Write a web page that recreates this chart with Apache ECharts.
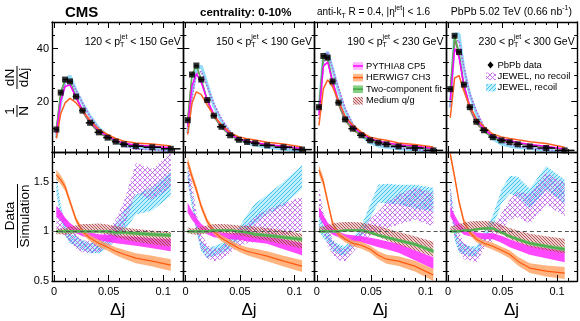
<!DOCTYPE html>
<html><head><meta charset="utf-8">
<script src="https://cdn.jsdelivr.net/npm/echarts@6/dist/echarts.min.js"></script>
<style>html,body{margin:0;padding:0;background:#fff}#c{width:580px;height:321px}</style>
</head><body><div id="c"></div>
<script>
// ---------------- data ----------------
const deltaJ  = [0.002, 0.006, 0.010, 0.0145, 0.020, 0.026, 0.033, 0.041, 0.049, 0.0565, 0.064, 0.075, 0.090, 0.107];
const binLow  = [0, 0.004, 0.008, 0.012, 0.017, 0.023, 0.029, 0.037, 0.045, 0.053, 0.060, 0.068, 0.082, 0.098];
const binHigh = [0.004, 0.008, 0.012, 0.017, 0.023, 0.029, 0.037, 0.045, 0.053, 0.060, 0.068, 0.082, 0.098, 0.116];
const ptBins  = [["120", "150"], ["150", "190"], ["190", "230"], ["230", "300"]];

// PbPb data, 1/N dN/dΔj
const data1 = [9.5, 23.4, 28.3, 27.6, 21.9, 16.6, 12.0, 8.4, 6.4, 4.9, 3.9, 3.2, 2.8, 2.2];
const data2 = [13.0, 30.2, 33.6, 28.3, 20.6, 14.7, 10.5, 7.3, 5.6, 4.8, 4.3, 3.5, 2.8, 1.9];
const data3 = [17.9, 37.2, 36.6, 27.6, 19.6, 13.3, 9.8, 7.3, 5.4, 4.5, 3.9, 3.1, 2.5, 1.6];
const data4 = [24.7, 44.8, 38.7, 26.4, 17.9, 12.4, 9.2, 6.6, 5.4, 4.7, 3.9, 3.1, 2.5, 1.6];

// simulations, 1/N dN/dΔj
const pythiaTop1  = [7.9, 20.2, 25.7, 26.3, 21.7, 16.9, 12.5, 8.9, 6.9, 5.3, 4.3, 3.6, 3.2, 2.6];
const herwigTop1  = [6.1, 15.4, 19.5, 21.2, 19.6, 16.6, 12.9, 9.5, 7.6, 6.1, 5.1, 4.4, 4.0, 3.3];
const twoCompTop1 = [9.5, 23.4, 28.3, 27.6, 21.9, 16.6, 12.0, 8.4, 6.4, 4.95, 3.95, 3.3, 2.9, 2.3];
const mediumTop1  = [9.5, 23.4, 28.3, 27.3, 21.5, 16.1, 11.7, 8.2, 6.3, 4.9, 4.0, 3.3, 3.0, 2.4];
const jewelNRTop1 = [8.3, 21.3, 27.0, 28.5, 24.3, 19.5, 14.3, 9.8, 7.0, 4.8, 3.3, 2.1, 1.9, 1.4];
const jewelRTop1  = [6.5, 19.5, 27.7, 29.7, 24.3, 19.3, 14.5, 10.0, 7.1, 4.9, 3.5, 2.5, 2.1, 1.5];

const pythiaTop2  = [10.5, 26.0, 30.5, 27.2, 20.6, 15.2, 10.9, 7.7, 5.9, 5.1, 4.6, 3.8, 3.2, 2.3];
const herwigTop2  = [7.6, 19.5, 23.7, 22.6, 18.7, 14.7, 11.3, 8.3, 6.7, 6.0, 5.5, 4.7, 4.0, 2.9];
const twoCompTop2 = [13.0, 30.2, 33.6, 28.3, 20.6, 14.6, 10.4, 7.2, 5.6, 4.85, 4.4, 3.65, 3.0, 2.05];
const mediumTop2  = [12.9, 30.2, 33.6, 28.0, 20.2, 14.3, 10.2, 7.2, 5.5, 4.8, 4.3, 3.6, 3.0, 2.1];
const jewelNRTop2 = [8.1, 21.6, 30.5, 31.4, 25.7, 19.3, 13.5, 8.6, 6.0, 4.9, 4.2, 3.3, 2.5, 1.6];
const jewelRTop2  = [8.1, 23.2, 32.0, 33.4, 26.4, 18.4, 12.7, 8.3, 5.8, 4.4, 3.6, 2.8, 2.0, 1.2];

const pythiaTop3  = [14.9, 33.2, 34.9, 27.6, 20.2, 14.1, 10.5, 7.9, 6.0, 5.1, 4.5, 3.7, 3.3, 2.35];
const herwigTop3  = [11.0, 24.8, 28.2, 25.6, 20.2, 14.5, 11.1, 8.5, 6.6, 5.9, 5.4, 4.4, 3.85, 2.9];
const twoCompTop3 = [17.9, 37.2, 36.6, 27.6, 19.6, 13.2, 9.7, 7.2, 5.45, 4.7, 4.15, 3.4, 2.9, 2.0];
const mediumTop3  = [17.5, 36.5, 35.5, 26.5, 18.7, 12.7, 9.3, 7.0, 5.3, 4.5, 4.0, 3.3, 2.85, 1.95];
const jewelNRTop3 = [13.5, 33.8, 38.5, 32.5, 25.1, 17.5, 11.5, 7.7, 5.2, 4.1, 3.35, 2.55, 1.95, 1.3];
const jewelRTop3  = [16.3, 37.0, 38.7, 32.3, 23.9, 16.6, 11.1, 7.3, 4.5, 3.3, 2.8, 2.25, 1.85, 1.2];

const pythiaTop4  = [20.6, 40.0, 36.9, 26.4, 18.3, 12.9, 9.7, 6.9, 5.9, 5.3, 4.6, 3.8, 3.2, 2.1];
const herwigTop4  = [13.9, 28.9, 29.8, 24.0, 18.1, 13.5, 10.5, 7.8, 6.7, 6.1, 5.6, 4.9, 4.2, 2.8];
const twoCompTop4 = [24.7, 44.8, 38.7, 26.1, 17.7, 12.2, 8.9, 6.4, 5.45, 4.95, 4.25, 3.5, 2.95, 1.95];
const mediumTop4  = [24.2, 43.5, 37.2, 25.1, 16.9, 11.7, 8.7, 6.3, 5.3, 4.8, 4.1, 3.4, 2.85, 1.9];
const jewelNRTop4 = [18.3, 42.7, 43.0, 33.0, 22.9, 16.5, 10.5, 6.8, 4.9, 3.85, 3.1, 2.5, 1.75, 1.2];
const jewelRTop4  = [17.6, 45.5, 45.5, 32.2, 22.4, 15.5, 9.7, 6.0, 4.0, 3.2, 2.7, 2.35, 1.6, 1.15];

// Data / Simulation ratios (central values)
const pythiaRatio1  = [1.20, 1.16, 1.10, 1.05, 1.01, 0.98, 0.96, 0.94, 0.93, 0.92, 0.91, 0.90, 0.88, 0.86];
const herwigRatio1  = [1.57, 1.52, 1.45, 1.30, 1.12, 1.00, 0.93, 0.88, 0.84, 0.80, 0.77, 0.73, 0.70, 0.66];
const twoCompRatio1 = [1.00, 1.00, 1.00, 1.00, 1.00, 1.00, 1.00, 1.00, 1.00, 0.99, 0.99, 0.98, 0.97, 0.96];
const mediumRatio1  = [1.00, 1.00, 1.00, 1.01, 1.02, 1.03, 1.03, 1.03, 1.02, 1.00, 0.98, 0.96, 0.94, 0.92];
const jewelNRRatio1 = [1.15, 1.10, 1.05, 0.97, 0.90, 0.85, 0.84, 0.86, 0.92, 1.02, 1.17, 1.54, 1.47, 1.62];
const jewelRRatio1  = [1.47, 1.20, 1.02, 0.93, 0.90, 0.86, 0.83, 0.84, 0.90, 1.00, 1.10, 1.27, 1.33, 1.48];

const pythiaRatio2  = [1.24, 1.16, 1.10, 1.04, 1.00, 0.97, 0.96, 0.95, 0.95, 0.94, 0.93, 0.92, 0.87, 0.82];
const herwigRatio2  = [1.70, 1.55, 1.42, 1.25, 1.10, 1.00, 0.93, 0.88, 0.83, 0.80, 0.78, 0.75, 0.70, 0.65];
const twoCompRatio2 = [1.00, 1.00, 1.00, 1.00, 1.00, 1.01, 1.01, 1.01, 1.00, 0.99, 0.97, 0.96, 0.94, 0.92];
const mediumRatio2  = [1.01, 1.00, 1.00, 1.01, 1.02, 1.03, 1.03, 1.02, 1.01, 1.00, 0.99, 0.97, 0.94, 0.90];
const jewelNRRatio2 = [1.60, 1.40, 1.10, 0.90, 0.80, 0.76, 0.78, 0.85, 0.93, 0.98, 1.02, 1.07, 1.12, 1.18];
const jewelRRatio2  = [1.60, 1.30, 1.05, 0.85, 0.78, 0.80, 0.83, 0.88, 0.97, 1.08, 1.18, 1.27, 1.38, 1.55];

const pythiaRatio3  = [1.20, 1.12, 1.05, 1.00, 0.97, 0.94, 0.93, 0.92, 0.90, 0.88, 0.86, 0.83, 0.76, 0.68];
const herwigRatio3  = [1.62, 1.50, 1.30, 1.08, 0.97, 0.92, 0.88, 0.86, 0.82, 0.76, 0.72, 0.70, 0.65, 0.56];
const twoCompRatio3 = [1.00, 1.00, 1.00, 1.00, 1.00, 1.01, 1.01, 1.01, 0.99, 0.96, 0.94, 0.91, 0.87, 0.80];
const mediumRatio3  = [1.02, 1.02, 1.03, 1.04, 1.05, 1.05, 1.05, 1.04, 1.02, 1.00, 0.97, 0.93, 0.88, 0.82];
const jewelNRRatio3 = [1.33, 1.10, 0.95, 0.85, 0.78, 0.76, 0.85, 0.95, 1.04, 1.10, 1.16, 1.22, 1.28, 1.22];
const jewelRRatio3  = [1.10, 1.00, 0.95, 0.85, 0.82, 0.80, 0.88, 1.00, 1.20, 1.38, 1.38, 1.37, 1.35, 1.32];

const pythiaRatio4  = [1.20, 1.12, 1.05, 1.00, 0.98, 0.96, 0.95, 0.95, 0.92, 0.88, 0.85, 0.81, 0.78, 0.75];
const herwigRatio4  = [1.78, 1.55, 1.30, 1.10, 0.99, 0.92, 0.88, 0.85, 0.81, 0.77, 0.70, 0.63, 0.60, 0.58];
const twoCompRatio4 = [1.00, 1.00, 1.00, 1.01, 1.01, 1.02, 1.03, 1.03, 0.99, 0.95, 0.92, 0.88, 0.85, 0.82];
const mediumRatio4  = [1.02, 1.03, 1.04, 1.05, 1.06, 1.06, 1.06, 1.05, 1.02, 0.98, 0.95, 0.91, 0.88, 0.85];
const jewelNRRatio4 = [1.35, 1.05, 0.90, 0.80, 0.78, 0.75, 0.88, 0.97, 1.10, 1.22, 1.27, 1.23, 1.43, 1.32];
const jewelRRatio4  = [1.40, 0.98, 0.85, 0.82, 0.80, 0.80, 0.95, 1.10, 1.35, 1.47, 1.45, 1.33, 1.54, 1.40];

// ratio uncertainties (half widths)
const pythiaErr  = [0.05, 0.045, 0.04, 0.035, 0.03, 0.03, 0.03, 0.03, 0.035, 0.04, 0.04, 0.045, 0.05, 0.06];
const herwigErr  = [0.05, 0.045, 0.04, 0.035, 0.03, 0.03, 0.03, 0.035, 0.035, 0.04, 0.045, 0.05, 0.055, 0.06];
const twoCompErr = [0.012, 0.012, 0.012, 0.012, 0.012, 0.012, 0.012, 0.012, 0.014, 0.015, 0.016, 0.017, 0.018, 0.02];
const mediumErr  = [0.03, 0.03, 0.035, 0.04, 0.04, 0.045, 0.045, 0.05, 0.05, 0.055, 0.06, 0.065, 0.07, 0.075];
const jewelNRErr = [0.12, 0.10, 0.09, 0.08, 0.07, 0.06, 0.06, 0.07, 0.08, 0.10, 0.13, 0.15, 0.16, 0.17];
const jewelRErr  = [0.09, 0.07, 0.06, 0.05, 0.05, 0.05, 0.05, 0.06, 0.07, 0.09, 0.10, 0.10, 0.12, 0.12];

// axis ticks
const xMajorTicks = [0, 0.05, 0.1];
const xMinorTicks = [0.01, 0.02, 0.03, 0.04, 0.06, 0.07, 0.08, 0.09, 0.11];
const topMajorTicks = [20, 40];
const topMinorTicks = [5, 10, 15, 25, 30, 35, 45];
const ratioMajorTicks = [0.5, 1, 1.5];
const ratioMinorTicks = [0.6, 0.7, 0.8, 0.9, 1.1, 1.2, 1.3, 1.4, 1.6, 1.7];

// ---------------- build ----------------
const FONT = '"Liberation Sans", Arial, Helvetica, sans-serif';
const XMIN = -0.002, XMAX = 0.1185;
const colLeft = [52, 183.3, 314.6, 445.9], colW = 131.3;
const rowTop = [22, 152], rowH = [130, 129];
const yRanges = [[1, 50], [0.5, 1.8]];

const panels = [
  {data: data1, top: [pythiaTop1, herwigTop1, twoCompTop1, mediumTop1, jewelNRTop1, jewelRTop1],
   ratio: [pythiaRatio1, herwigRatio1, twoCompRatio1, mediumRatio1, jewelNRRatio1, jewelRRatio1]},
  {data: data2, top: [pythiaTop2, herwigTop2, twoCompTop2, mediumTop2, jewelNRTop2, jewelRTop2],
   ratio: [pythiaRatio2, herwigRatio2, twoCompRatio2, mediumRatio2, jewelNRRatio2, jewelRRatio2]},
  {data: data3, top: [pythiaTop3, herwigTop3, twoCompTop3, mediumTop3, jewelNRTop3, jewelRTop3],
   ratio: [pythiaRatio3, herwigRatio3, twoCompRatio3, mediumRatio3, jewelNRRatio3, jewelRRatio3]},
  {data: data4, top: [pythiaTop4, herwigTop4, twoCompTop4, mediumTop4, jewelNRTop4, jewelRTop4],
   ratio: [pythiaRatio4, herwigRatio4, twoCompRatio4, mediumRatio4, jewelNRRatio4, jewelRRatio4]}
];
const errs = [pythiaErr, herwigErr, twoCompErr, mediumErr, jewelNRErr, jewelRErr];

function mkPat(size, bg, strokes) {
  const c = document.createElement('canvas'); c.width = c.height = size;
  const g = c.getContext('2d');
  if (bg) { g.fillStyle = bg; g.fillRect(0, 0, size, size); }
  strokes.forEach(s => {
    g.strokeStyle = s.color; g.lineWidth = s.lw; g.beginPath();
    for (let k = -1; k <= 1; k++) {
      if (s.dir > 0) { g.moveTo(k * size, size); g.lineTo(k * size + size, 0); }
      else { g.moveTo(k * size, 0); g.lineTo(k * size + size, size); }
    }
    g.stroke();
  });
  return {image: c, repeat: 'repeat'};
}
const cyanPat = mkPat(4, 'rgba(140,225,250,0.55)', [{color: 'rgba(60,190,240,0.95)', lw: 1, dir: 1}]);
const violetPat = mkPat(5, null, [{color: 'rgba(185,85,230,0.8)', lw: 1, dir: 1}, {color: 'rgba(185,85,230,0.8)', lw: 1, dir: -1}]);
const brownPat = mkPat(3, 'rgba(210,130,130,0.4)', [{color: 'rgba(165,60,60,0.9)', lw: 0.9, dir: -1}]);

const bandFill = ['rgba(255,40,255,0.85)', 'rgba(255,160,95,0.8)', 'rgba(110,200,110,0.9)', brownPat, violetPat, cyanPat];

const grids = [], xAxes = [], yAxes = [], series = [];
for (let r = 0; r < 2; r++) for (let c = 0; c < 4; c++) {
  const G = r * 4 + c;
  grids.push({left: colLeft[c], top: rowTop[r], width: colW, height: rowH[r], containLabel: false, outerBoundsMode: 'none'});
  const mkX = (pos, ticks, len, line, labels) => ({
    type: 'value', gridIndex: G, position: pos, min: XMIN, max: XMAX, z: 10,
    axisLine: {show: line, onZero: false, lineStyle: {color: '#000', width: 1.4}},
    axisTick: {show: true, inside: true, length: len, customValues: ticks, lineStyle: {color: '#000', width: 1}},
    axisLabel: labels ? {show: true, customValues: xMajorTicks, margin: 5, fontSize: 11, fontFamily: FONT, color: '#000',
      formatter: v => String(+(+v).toFixed(3))} : {show: false},
    splitLine: {show: false}
  });
  xAxes.push(mkX('bottom', xMajorTicks, 6, true, r === 1), mkX('bottom', xMinorTicks, 3, false, false),
             mkX('top', xMajorTicks, 6, true, false), mkX('top', xMinorTicks, 3, false, false));
  const maj = r === 0 ? topMajorTicks : ratioMajorTicks, mnr = r === 0 ? topMinorTicks : ratioMinorTicks;
  const mkY = (pos, ticks, len, line, labels) => ({
    type: 'value', gridIndex: G, position: pos, min: yRanges[r][0], max: yRanges[r][1], z: 10,
    axisLine: {show: line, onZero: false, lineStyle: {color: '#000', width: 1.4}},
    axisTick: {show: true, inside: true, length: len, customValues: ticks, lineStyle: {color: '#000', width: 1}},
    axisLabel: labels ? {show: true, customValues: maj, margin: 3, fontSize: 11, fontFamily: FONT, color: '#000',
      formatter: v => String(+(+v).toFixed(2))} : {show: false},
    splitLine: {show: false}
  });
  yAxes.push(mkY('left', maj, 6, true, c === 0), mkY('left', mnr, 3, false, false),
             mkY('right', maj, 6, true, false), mkY('right', mnr, 3, false, false));
}

const ax = G => ({xAxisIndex: G * 4, yAxisIndex: G * 4});
const pts = arr => deltaJ.map((x, i) => [x, arr[i]]);
function line(G, arr, color, width, z, type) {
  return {type: 'line', ...ax(G), data: pts(arr), symbol: 'none', silent: true, z,
    lineStyle: {color, width, type: type || 'solid'}};
}
// clip polygon between two horizontal lines (Sutherland-Hodgman)
function clipY(poly, yMin, yMax) {
  const clipEdge = (P, inside, inter) => {
    const out = [];
    for (let i = 0; i < P.length; i++) {
      const a = P[i], b = P[(i + 1) % P.length];
      const ia = inside(a), ib = inside(b);
      if (ia) out.push(a);
      if (ia !== ib) out.push(inter(a, b));
    }
    return out;
  };
  const at = (a, b, y) => [a[0] + (b[0] - a[0]) * (y - a[1]) / (b[1] - a[1]), y];
  let P = clipEdge(poly, p => p[1] >= yMin, (a, b) => at(a, b, yMin));
  P = clipEdge(P, p => p[1] <= yMax, (a, b) => at(a, b, yMax));
  return P;
}
function band(G, center, err, fill, z) {
  return {type: 'custom', ...ax(G), z, silent: true,
    data: deltaJ.map((x, i) => [x, center[i] - err[i], center[i] + err[i]]),
    encode: {x: 0, y: [1, 2]},
    renderItem: (prm, api) => {
      if (prm.dataIndex !== 0) return null;
      const up = deltaJ.map((x, i) => api.coord([x, center[i] + err[i]]));
      const dn = deltaJ.map((x, i) => api.coord([x, center[i] - err[i]])).reverse();
      const cs = prm.coordSys;
      const poly = clipY(up.concat(dn), cs.y, cs.y + cs.height);
      return {type: 'polygon', shape: {points: poly}, style: {fill, stroke: null}};
    }};
}

panels.forEach((p, c) => {
  const G = c;
  // top panel curves
  series.push(line(G, p.top[5], 'rgba(100,205,245,0.7)', 3, 2));
  series.push(line(G, p.top[4], '#b65ee8', 1.6, 3, 'dotted'));
  series.push(line(G, p.top[3], '#b06060', 1.2, 4));
  series.push(line(G, p.top[2], '#55b055', 1.5, 5));
  series.push(line(G, p.top[0], '#ff00ff', 1.5, 6));
  series.push(line(G, p.top[1], '#ff6020', 1.5, 7));
  // data points with bin widths
  series.push({type: 'custom', ...ax(G), z: 19, silent: true,
    data: deltaJ.map((x, i) => [binLow[i], binHigh[i], p.data[i]]),
    encode: {x: [0, 1], y: 2},
    renderItem: (prm, api) => {
      const a = api.coord([api.value(0), api.value(2)]), b = api.coord([api.value(1), api.value(2)]);
      return {type: 'line', shape: {x1: a[0], y1: a[1], x2: b[0], y2: b[1]}, style: {stroke: '#000', lineWidth: 1.5}};
    }});
  series.push({type: 'scatter', ...ax(G), data: pts(p.data), symbol: 'rect', symbolSize: 6,
    itemStyle: {color: '#000'}, z: 20, silent: true});

  // ratio panel
  const R = c + 4;
  series.push(band(R, p.ratio[5], errs[5], bandFill[5], 2));
  series.push(band(R, p.ratio[4], errs[4], bandFill[4], 3));
  series.push(band(R, p.ratio[0], errs[0], bandFill[0], 4));
  series.push(band(R, p.ratio[1], errs[1], bandFill[1], 5));
  series.push(line(R, p.ratio[1], '#ff5a10', 1.2, 6));
  series.push(band(R, p.ratio[3], errs[3], bandFill[3], 7));
  series.push(band(R, p.ratio[2], errs[2], bandFill[2], 8));
  const gl = line(R, p.ratio[2], '#4fae4f', 2.2, 9);
  gl.markLine = {silent: true, symbol: 'none', label: {show: false}, data: [{yAxis: 1}],
    lineStyle: {color: '#555', type: [4, 3], width: 1}, z: 12};
  series.push(gl);
});

// ---------------- text & legends ----------------
const graphics = [];
const mctx = document.createElement('canvas').getContext('2d');
const tw = (t, s, b) => { mctx.font = (b ? 'bold ' : '') + s + 'px ' + FONT; return mctx.measureText(t).width; };
function txt(x, y, text, size, o) {
  o = o || {};
  graphics.push({type: 'text', x, y, z: 100, silent: true, style: {text, fill: '#000',
    font: (o.bold ? 'bold ' : '') + size + 'px ' + FONT,
    textAlign: o.align || 'left', align: o.align || 'left',
    textVerticalAlign: 'middle', verticalAlign: 'middle'}});
}
function richLine(x, y, parts, align) {
  let w = 0; const pos = []; let i = 0;
  while (i < parts.length) {
    const p = parts[i];
    if (p.pair) { const q = parts[i + 1]; pos.push(w, w); w += Math.max(tw(p.t, p.s), tw(q.t, q.s)); i += 2; }
    else { pos.push(w); w += tw(p.t, p.s); i++; }
  }
  const x0 = align === 'right' ? x - w : x;
  parts.forEach((p, k) => txt(x0 + pos[k], y + (p.dy || 0), p.t, p.s));
}

txt(65, 12.5, 'CMS', 15, {bold: true});
txt(200, 12.5, 'centrality: 0-10%', 11.5, {bold: true});
richLine(317, 12.5, [{t: 'anti-k', s: 10}, {t: 'T', s: 7, dy: 3.5}, {t: ' R = 0.4, |η', s: 10}, {t: 'jet', s: 7, dy: -4}, {t: '| < 1.6', s: 10}], 'left');
richLine(572, 12.5, [{t: 'PbPb 5.02 TeV (0.66 nb', s: 10.5}, {t: '-1', s: 7, dy: -4}, {t: ')', s: 10.5}], 'right');

ptBins.forEach((b, c) => {
  richLine(colLeft[c] + colW - 2.5, 42, [{t: b[0] + ' < p', s: 10.5}, {t: 'jet', s: 7, dy: -4.5, pair: true}, {t: 'T', s: 7, dy: 3.5}, {t: ' < ' + b[1] + ' GeV', s: 10.5}], 'right');
  txt(colLeft[c] + colW / 2, 310, 'Δj', 17, {align: 'center'});
});

const tstyle = (t, s) => ({text: t, fill: '#000', font: s + 'px ' + FONT, textAlign: 'center', align: 'center', textVerticalAlign: 'middle', verticalAlign: 'middle'});
graphics.push({type: 'group', x: 17, y: 92, rotation: Math.PI / 2, silent: true, z: 100, children: [
  {type: 'text', x: -19, y: -7, style: tstyle('1', 13.5)},
  {type: 'text', x: -19, y: 7.5, style: tstyle('N', 13.5)},
  {type: 'line', shape: {x1: -25, y1: 0, x2: -13, y2: 0}, style: {stroke: '#000', lineWidth: 1}},
  {type: 'text', x: 14.5, y: -7, style: tstyle('dN', 13.5)},
  {type: 'text', x: 14.5, y: 7.5, style: tstyle('dΔj', 13.5)},
  {type: 'line', shape: {x1: 3, y1: 0, x2: 26, y2: 0}, style: {stroke: '#000', lineWidth: 1}}
]});
graphics.push({type: 'group', x: 17.5, y: 216, rotation: Math.PI / 2, silent: true, z: 100, children: [
  {type: 'text', x: 0, y: -7, style: tstyle('Data', 13.5)},
  {type: 'text', x: 0, y: 7.5, style: tstyle('Simulation', 13.5)},
  {type: 'line', shape: {x1: -32, y1: 0, x2: 32, y2: 0}, style: {stroke: '#000', lineWidth: 1}}
]});

function swatch(x, y, fill, lineColor) {
  graphics.push({type: 'rect', silent: true, z: 100, shape: {x: x, y: y - 3.8, width: 10, height: 7.6}, style: {fill}});
  if (lineColor) graphics.push({type: 'line', silent: true, z: 101, shape: {x1: x, y1: y, x2: x + 10, y2: y}, style: {stroke: lineColor, lineWidth: 1.5}});
}
const leg3 = [['PYTHIA8 CP5', 'rgba(255,130,255,0.6)', '#ff00ff'], ['HERWIG7 CH3', 'rgba(255,160,95,0.7)', '#ff5a10'],
              ['Two-component fit', 'rgba(110,200,110,0.85)', '#44a244'], ['Medium q/g', brownPat, null]];
leg3.forEach((e, i) => { const y = 66 + i * 11.6; swatch(353, y, e[1], e[2]); txt(366, y, e[0], 9.3); });
graphics.push({type: 'polygon', silent: true, z: 100, shape: {points: [[490.5, 61.5], [493.5, 65], [490.5, 68.5], [487.5, 65]]}, style: {fill: '#000'}});
txt(497.5, 65, 'PbPb data', 9.5);
swatch(486, 76.3, violetPat, null); txt(497.5, 76.3, 'JEWEL, no recoil', 9.5);
swatch(486, 87.6, cyanPat, null); txt(497.5, 87.6, 'JEWEL, recoil', 9.5);

const chart = echarts.init(document.getElementById('c'), null, {renderer: 'canvas'});
chart.setOption({animation: false, backgroundColor: '#fff', grid: grids, xAxis: xAxes, yAxis: yAxes, series, graphic: graphics});
</script></body></html>
